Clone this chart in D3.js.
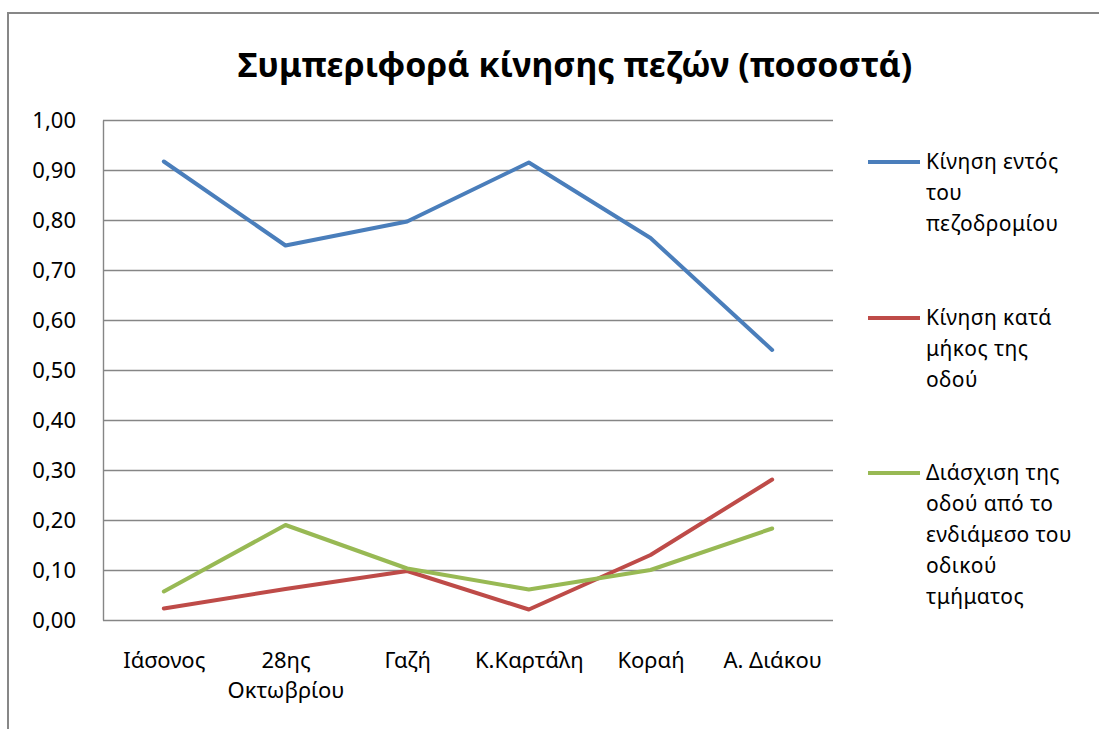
<!DOCTYPE html>
<html>
<head>
<meta charset="utf-8">
<script src="https://cdn.jsdelivr.net/npm/d3@7"></script>
<style>
    body { margin: 0; background: #fff; }
    svg { display: block; font-family: "Noto Sans", "Open Sans", sans-serif; }
    .grid line { stroke: #868686; stroke-width: 1.4; }
    .grid path { stroke: #868686; stroke-width: 1.4; }
    .series { fill: none; stroke-width: 4; stroke-linejoin: round; stroke-linecap: round; }
</style>
</head>
<body>
<svg id="chart"></svg>
<script>
// chart data
var title = 'Συμπεριφορά κίνησης πεζών (ποσοστά)';
var categories = ['Ιάσονος', '28ης Οκτωβρίου', 'Γαζή', 'Κ.Καρτάλη', 'Κοραή', 'Α. Διάκου'];
var sidewalk = [0.917, 0.749, 0.797, 0.915, 0.764, 0.540];
var alongRoad = [0.023, 0.062, 0.098, 0.021, 0.130, 0.281];
var midCrossing = [0.057, 0.190, 0.103, 0.061, 0.100, 0.183];
var seriesNames = [
    ['Κίνηση εντός', 'του', 'πεζοδρομίου'],
    ['Κίνηση κατά', 'μήκος της', 'οδού'],
    ['Διάσχιση της', 'οδού από το', 'ενδιάμεσο του', 'οδικού', 'τμήματος']
];
var seriesColors = ['#4a7ebb', '#be4b48', '#98b954'];
var yTicks = [0, 0.1, 0.2, 0.3, 0.4, 0.5, 0.6, 0.7, 0.8, 0.9, 1.0];

var series = [sidewalk, alongRoad, midCrossing].map(function(values, i) {
    return {name: seriesNames[i], color: seriesColors[i], values: values};
});

var width = 1099, height = 729;
var plot = {left: 103, right: 833, top: 120, bottom: 620};
var labelSize = 22;

var svg = d3.select('#chart')
    .attr('width', width)
    .attr('height', height);

// outer chart frame (cut by the picture edge)
svg.append('path')
    .attr('d', 'M8,' + (height + 10) + 'V13H' + (width + 10))
    .attr('fill', 'none')
    .attr('stroke', '#878787')
    .attr('stroke-width', 2);

var locale = d3.formatLocale({decimal: ',', thousands: '.', grouping: [3], currency: ['', '€']});
var fmt = locale.format('.2f');

var x = d3.scalePoint()
    .domain(categories)
    .range([plot.left, plot.right])
    .padding(0.5);

var y = d3.scaleLinear()
    .domain([0, 1])
    .range([plot.bottom, plot.top]);

// title
var titleText = svg.append('text')
    .attr('x', 575)
    .attr('y', 77)
    .attr('text-anchor', 'middle')
    .attr('font-weight', 'bold')
    .attr('font-size', 30)
    .attr('fill', '#000')
    .text(title);
var tw = titleText.node().getComputedTextLength();
titleText.attr('font-size', 30 * 675 / tw);

// y axis with grid
var gY = svg.append('g')
    .attr('class', 'grid')
    .attr('transform', 'translate(' + plot.left + ',0)')
    .call(d3.axisLeft(y)
        .tickValues(yTicks)
        .tickFormat(fmt)
        .tickSize(-(plot.right - plot.left))
        .tickSizeOuter(0)
        .tickPadding(27));
gY.selectAll('text')
    .attr('font-size', labelSize)
    .attr('font-family', '"Noto Sans", sans-serif')
    .attr('fill', '#000');

// x axis labels
var gX = svg.append('g')
    .attr('transform', 'translate(0,' + plot.bottom + ')')
    .call(d3.axisBottom(x).tickSize(0).tickPadding(32));
gX.select('.domain').remove();
gX.selectAll('text')
    .attr('font-size', labelSize)
    .attr('font-family', '"Noto Sans", sans-serif')
    .attr('fill', '#000')
    .call(wrap, x.step() - 4);

function wrap(texts, maxWidth) {
    texts.each(function() {
        var text = d3.select(this);
        var words = text.text().split(/\s+/);
        var tx = text.attr('x') || 0, ty = text.attr('y'), dy = text.attr('dy');
        text.text(null);
        var line = [];
        var lineNo = 0;
        var tspan = text.append('tspan').attr('x', tx).attr('y', ty).attr('dy', dy);
        words.forEach(function(word) {
            line.push(word);
            tspan.text(line.join(' '));
            if (tspan.node().getComputedTextLength() > maxWidth && line.length > 1) {
                line.pop();
                tspan.text(line.join(' '));
                line = [word];
                lineNo++;
                tspan = text.append('tspan')
                    .attr('x', tx).attr('y', ty)
                    .attr('dy', (lineNo * 30 / labelSize + 0.71) + 'em')
                    .text(word);
            }
        });
    });
}

// series lines
var line = d3.line()
    .x(function(d, i) { return x(categories[i]); })
    .y(function(d) { return y(d); });

svg.append('g')
    .selectAll('path')
    .data(series)
    .join('path')
    .attr('class', 'series')
    .attr('stroke', function(d) { return d.color; })
    .attr('d', function(d) { return line(d.values); });

// legend
var legendY = [162, 318, 473];
var legend = svg.append('g')
    .selectAll('g')
    .data(series)
    .join('g')
    .attr('transform', function(d, i) { return 'translate(868,' + legendY[i] + ')'; });

legend.append('line')
    .attr('x1', 0)
    .attr('x2', 52)
    .attr('stroke', function(d) { return d.color; })
    .attr('stroke-width', 4);

legend.append('text')
    .attr('font-size', 21)
    .attr('letter-spacing', 0.4)
    .attr('fill', '#000')
    .selectAll('tspan')
    .data(function(d) { return d.name; })
    .join('tspan')
    .attr('x', 58)
    .attr('y', function(d, i) { return 7 + i * 31; })
    .text(function(d) { return d; });
</script>
</body>
</html>
